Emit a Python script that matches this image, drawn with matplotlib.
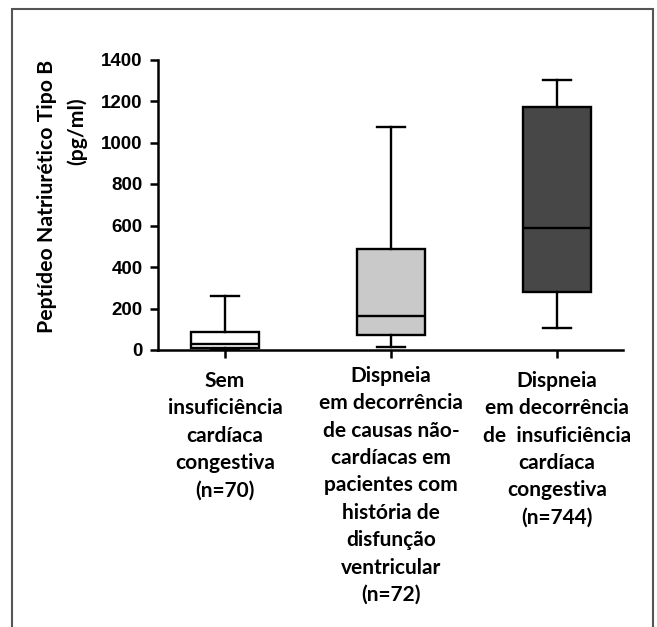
import numpy as np
import matplotlib
matplotlib.use("Agg")
import matplotlib.pyplot as plt
import matplotlib.transforms as mtransforms
from matplotlib.patches import Rectangle

# ── data ───────────────────────────────────────────────────────────────────
categories = [
    "Sem\ninsuficiência\ncardíaca\ncongestiva\n(n=70)",
    "Dispneia\nem decorrência\nde causas não-\ncardíacas em\npacientes com\nhistória de\ndisfunção\nventricular\n(n=72)",
    "Dispneia\nem decorrência\nde  insuficiência\ncardíaca\ncongestiva\n(n=744)",
]
whisker_low  = [0, 15, 105]
q1           = [8, 72, 278]
median       = [30, 165, 590]
q3           = [85, 487, 1170]
whisker_high = [262, 1075, 1300]
box_colors   = ["#ffffff", "#c9c9c9", "#474747"]
yticks       = [0, 200, 400, 600, 800, 1000, 1200, 1400]

W, H = 657, 627
fig = plt.figure(figsize=(W / 100, H / 100), dpi=100)
fig.patch.set_facecolor("white")

# outer frame
fig.patches.append(Rectangle((12 / W, -0.01), (653 - 12) / W, 1 - 9 / H + 0.01,
                             transform=fig.transFigure, fill=False,
                             edgecolor="#555555", linewidth=1.5))

ax = fig.add_axes([158 / W, 1 - 350 / H, (623 - 158) / W, (350 - 59.5) / H])

stats = []
for i in range(len(categories)):
    stats.append(dict(whislo=whisker_low[i], q1=q1[i], med=median[i],
                      q3=q3[i], whishi=whisker_high[i], fliers=[]))

bp = ax.bxp(stats, positions=[1, 2, 3], widths=0.41, patch_artist=True,
            showfliers=False, capwidths=0.165,
            boxprops=dict(linewidth=1.7, edgecolor="black"),
            medianprops=dict(color="black", linewidth=1.7),
            whiskerprops=dict(color="black", linewidth=1.7),
            capprops=dict(color="black", linewidth=1.7))
for patch, c in zip(bp["boxes"], box_colors):
    patch.set_facecolor(c)

ax.set_xlim(0.596, 3.398)
ax.set_ylim(0, 1400)
ax.set_yticks(yticks)
ax.set_xticks([1, 2, 3])
ax.set_xticklabels([])
for s in ["top", "right"]:
    ax.spines[s].set_visible(False)
for s in ["left", "bottom"]:
    ax.spines[s].set_linewidth(1.8)
ax.tick_params(axis="both", direction="out", length=6, width=1.8)
ax.tick_params(axis="y", pad=5)
for lbl in ax.get_yticklabels():
    lbl.set_fontfamily("Liberation Sans")
    lbl.set_fontweight("bold")
    lbl.set_fontsize(13.5)

# category labels
trans = mtransforms.blended_transform_factory(ax.transData, fig.transFigure)
label_top = [371, 366, 371]
for x, txt, top in zip([1, 2, 3], categories, label_top):
    ax.text(x, 1 - top / H, txt, transform=trans, ha="center", va="top",
            family="Lato", fontweight="bold", fontsize=15, linespacing=1.46,
            multialignment="center")

# y label
fig.text(47 / W, 1 - 196.5 / H, "Peptídeo Natriurético Tipo B", rotation=90,
         ha="center", va="center", family="Lato", fontweight="bold", fontsize=15.3)
fig.text(77 / W, 1 - 131 / H, "(pg/ml)", rotation=90,
         ha="center", va="center", family="Lato", fontweight="bold", fontsize=15.3)

fig.savefig("out.png", dpi=100, facecolor="white")
